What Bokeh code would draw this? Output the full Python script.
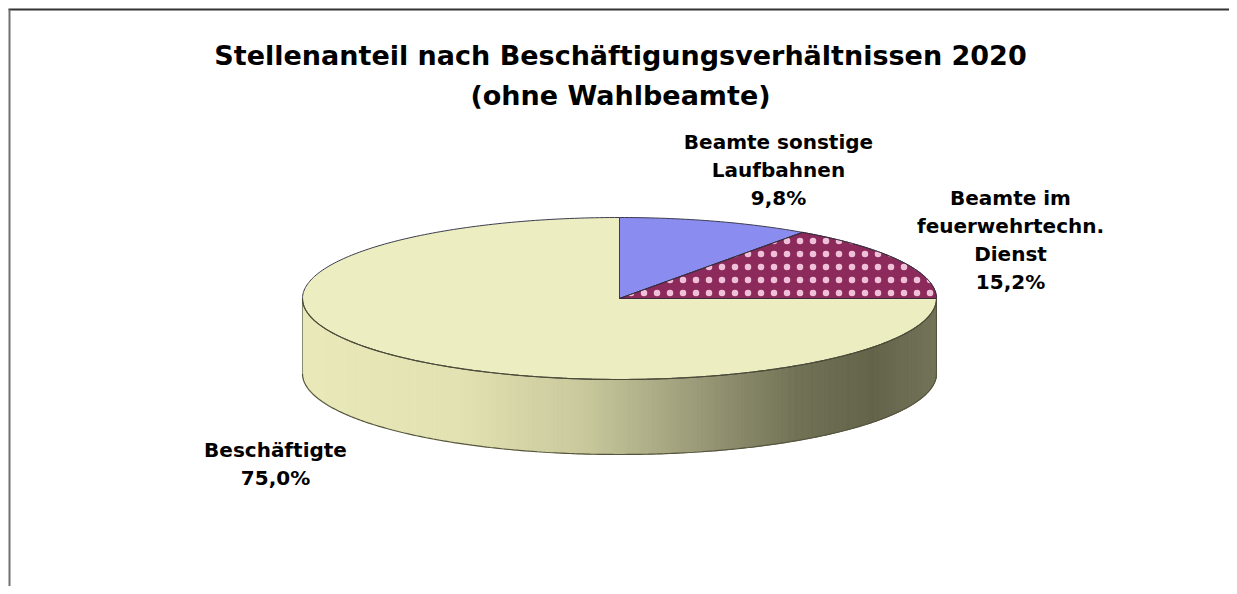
import numpy as np
from bokeh.plotting import figure
from bokeh.models import Range1d, ColumnDataSource
from bokeh.core.properties import value
from bokeh.embed import file_html
from bokeh.resources import INLINE

# ---- data ----
title_lines = ["Stellenanteil nach Beschäftigungsverhältnissen 2020", "(ohne Wahlbeamte)"]
categories = ["Beamte sonstige Laufbahnen", "Beamte im feuerwehrtechn. Dienst", "Beschäftigte"]
label_lines = [["Beamte sonstige", "Laufbahnen"], ["Beamte im", "feuerwehrtechn.", "Dienst"], ["Beschäftigte"]]
shares = [9.8, 15.2, 75.0]
colors = ["#8b8cef", "#8b2a5b", "#ecedc0"]

# ---- geometry (image-pixel data space) ----
W, H = 1229, 586
cx, cy, rx, ry, depth = 619.0, 298.0, 317.0, 81.0, 75.0
FONT = value("DejaVu Sans")

p = figure(width=W, height=H, output_backend="svg", toolbar_location=None,
           x_range=Range1d(0, W), y_range=Range1d(H, 0),
           min_border=0, outline_line_color=None)
p.axis.visible = False
p.grid.visible = False
p.background_fill_color = "white"
p.border_fill_color = "white"

# chart-area border (top and left visible)
p.line([8, W], [9, 9], line_color="#333333", line_width=2)
p.line([9, 9], [9, H], line_color="#707070", line_width=2)

def ex(t):
    return cx + rx * np.cos(t)

def ey(t):
    return cy - ry * np.sin(t)

# ---- side of the pie (front half), shaded gradient ----
stops_x = [0.0, 0.25, 0.45, 0.62, 0.78, 0.9, 1.0]
stops_c = [(0xe9, 0xe9, 0xba), (0xe2, 0xe2, 0xb2), (0xc8, 0xc8, 0x9c), (0x9c, 0x9c, 0x7a),
           (0x72, 0x72, 0x56), (0x64, 0x64, 0x4b), (0x74, 0x74, 0x5a)]

def grad(f):
    r = np.interp(f, stops_x, [c[0] for c in stops_c])
    g = np.interp(f, stops_x, [c[1] for c in stops_c])
    b = np.interp(f, stops_x, [c[2] for c in stops_c])
    return "#%02x%02x%02x" % (int(r), int(g), int(b))

ts = np.linspace(np.pi, 2 * np.pi, 241)
xs_list, ys_list, cols = [], [], []
for t1, t2 in zip(ts[:-1], ts[1:]):
    x1, x2 = ex(t1), ex(t2)
    y1, y2 = ey(t1), ey(t2)
    xs_list.append([x1, x2, x2, x1])
    ys_list.append([y1, y2, y2 + depth, y1 + depth])
    cols.append(grad(((x1 + x2) / 2 - (cx - rx)) / (2 * rx)))
p.patches(xs_list, ys_list, fill_color=cols, line_color=cols, line_width=1)

# side outlines
p.line(ex(ts), ey(ts) + depth, line_color="#55553f", line_width=1.2)
p.line([cx - rx, cx - rx], [cy, cy + depth], line_color="#8a8a70", line_width=1)
p.line([cx + rx, cx + rx], [cy, cy + depth], line_color="#55553f", line_width=1)

# ---- top face slices ----
total = sum(shares)
start = np.pi / 2
slice_xs, slice_ys = [], []
for s in shares:
    sweep = 2 * np.pi * s / total
    tt = np.linspace(start, start - sweep, max(8, int(400 * s / total)))
    slice_xs.append([cx] + list(ex(tt)))
    slice_ys.append([cy] + list(ey(tt)))
    start -= sweep

src = ColumnDataSource(dict(xs=slice_xs, ys=slice_ys, color=colors, cat=categories))
p.patches("xs", "ys", source=src, fill_color="color", line_color="#3c3c50", line_width=1)
# dotted pattern on second slice
p.patches([slice_xs[1]], [slice_ys[1]], fill_alpha=0, line_color="#3c2a3a", line_width=1,
          hatch_pattern="dot", hatch_color="#f0c0d8", hatch_scale=13, hatch_weight=0.9)

# front edge of top face
tf = np.linspace(np.pi, 2 * np.pi, 200)
p.line(ex(tf), ey(tf), line_color="#4d4d35", line_width=1.2)

# ---- labels ----
label_pos = [(778, 141), (1010, 197), (275, 449)]
lx, ly, lt = [], [], []
for (x0, y0), lines, s in zip(label_pos, label_lines, shares):
    allines = lines + [("%.1f" % s).replace(".", ",") + "%"]
    for i, ln in enumerate(allines):
        lx.append(x0)
        ly.append(y0 + i * 28)
        lt.append(ln)
p.text(lx, ly, text=lt, text_font=FONT, text_font_style="bold", text_font_size="20px",
       text_align="center", text_baseline="middle", text_color="black")

p.text([620, 620], [55, 95], text=title_lines, text_font=FONT, text_font_style="bold",
       text_font_size="27px", text_align="center", text_baseline="middle", text_color="black")

open("out.html", "w").write(file_html(p, INLINE))
